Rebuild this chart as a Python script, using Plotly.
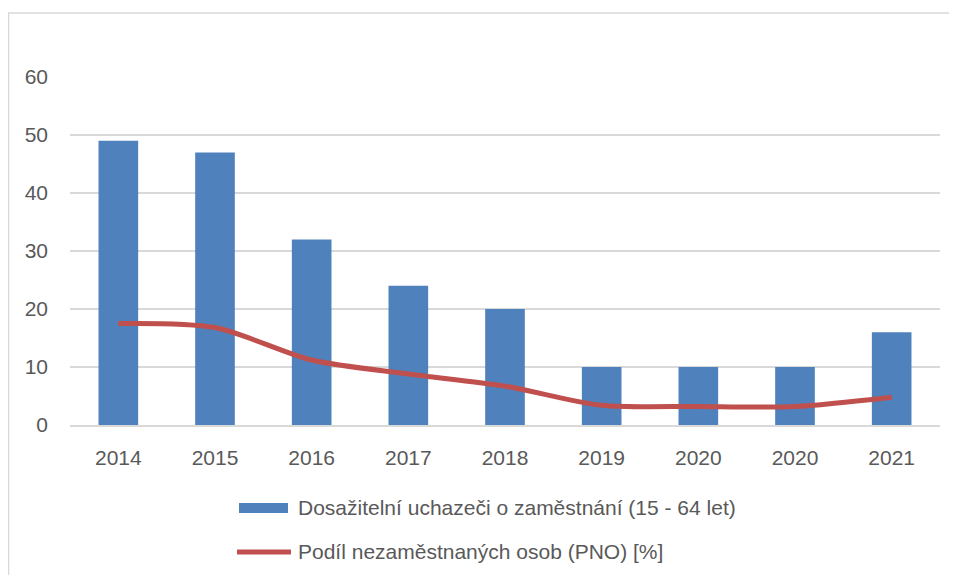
import plotly.graph_objects as go

years = ["2014", "2015", "2016", "2017", "2018", "2019", "2020", "2020", "2021"]
uchazeci = [49, 47, 32, 24, 20, 10, 10, 10, 16]
pno = [17.5, 16.8, 11.2, 8.8, 6.7, 3.4, 3.2, 3.2, 4.8]
name_bar = "Dosažitelní uchazeči o zaměstnání (15 - 64 let)"
name_line = "Podíl nezaměstnaných osob (PNO) [%]"
y_ticks = [0, 10, 20, 30, 40, 50, 60]

BLUE = "#4F81BD"
RED = "#C0504D"
TXT = "#595959"
FONT = "Liberation Sans"
FS = 21

xpos = list(range(len(years)))

fig = go.Figure()
fig.add_trace(go.Bar(x=xpos, y=uchazeci, name=name_bar, marker_color=BLUE,
                     marker_line_width=0, width=0.41))
fig.add_trace(go.Scatter(x=xpos, y=pno, name=name_line, mode="lines",
                         line=dict(color=RED, width=5, shape="spline", smoothing=0.8)))

OFF = 8  # page body margin
W, H = 957 - 2 * OFF, 583 - 2 * OFF
ml, mt = 70 - OFF, 77 - OFF
mr = W - (940 - OFF)
mb = H - (425 - OFF)
pw = W - ml - mr
ph = H - mt - mb

def px(x):
    return (x - OFF - ml) / pw

def py(y):
    return (H - mb - (y - OFF)) / ph

shapes = [
    # chart frame
    dict(type="rect", xref="paper", yref="paper", x0=px(8.5), x1=px(990), y0=py(13), y1=py(700),
         line=dict(color="#D9D9D9", width=1.5), fillcolor="rgba(0,0,0,0)", layer="below"),
    # legend swatches
    dict(type="rect", xref="paper", yref="paper", x0=px(239), x1=px(288), y0=py(513), y1=py(503),
         line=dict(width=0), fillcolor=BLUE),
    dict(type="line", xref="paper", yref="paper", x0=px(237), x1=px(291), y0=py(552), y1=py(552),
         line=dict(color=RED, width=5)),
]
annotations = [
    dict(xref="paper", yref="paper", x=px(296), y=py(508), text=name_bar, showarrow=False,
         xanchor="left", yanchor="middle", font=dict(family=FONT, size=FS, color=TXT)),
    dict(xref="paper", yref="paper", x=px(296), y=py(551), text=name_line, showarrow=False,
         xanchor="left", yanchor="middle", font=dict(family=FONT, size=FS, color=TXT)),
]

fig.update_layout(
    width=W, height=H,
    margin=dict(l=ml, r=mr, t=mt, b=mb, pad=0),
    paper_bgcolor="white", plot_bgcolor="white",
    showlegend=False,
    font=dict(family=FONT, size=FS, color=TXT),
    shapes=shapes, annotations=annotations,
    xaxis=dict(tickvals=xpos, ticktext=years, range=[-0.5, len(years) - 0.5],
               showgrid=False, showline=True, linecolor="#D9D9D9", linewidth=1.5,
               ticks="", ticklabelstandoff=13, tickfont=dict(size=FS, color=TXT)),
    yaxis=dict(range=[0, 60], tickvals=y_ticks, showgrid=True, gridcolor="#D9D9D9", gridwidth=1.5,
               zeroline=False, showline=False, ticks="", ticklabelstandoff=21,
               tickfont=dict(size=FS, color=TXT)),
)

fig.write_html("out.html")
